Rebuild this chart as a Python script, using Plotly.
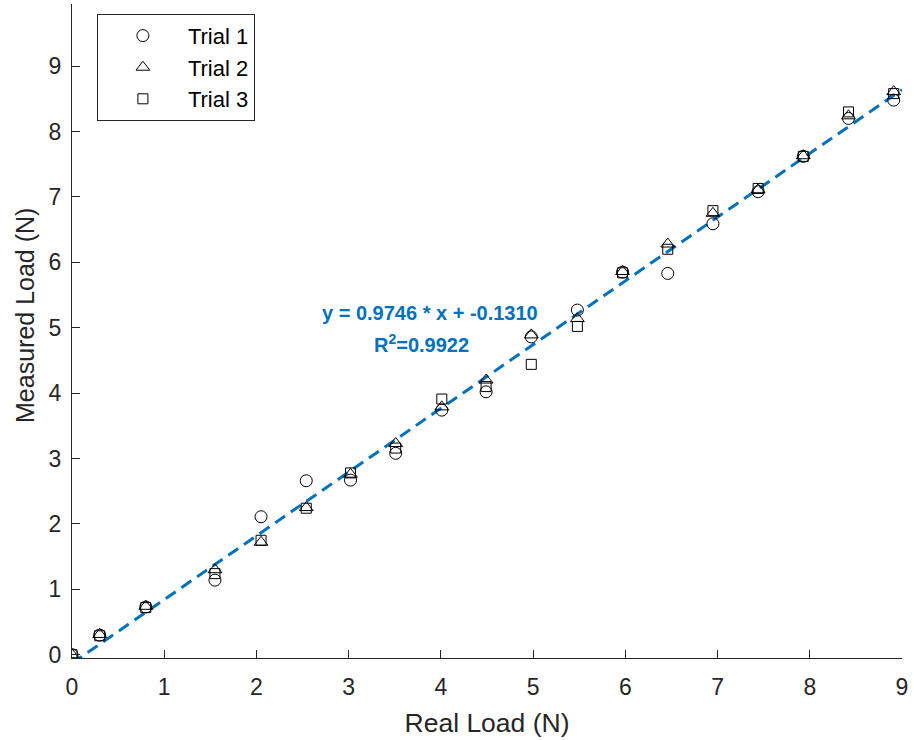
import plotly.graph_objects as go

# ---- data ----
real_load = [0.0, 0.30, 0.80, 1.55, 2.05, 2.54, 3.02, 3.51, 4.01, 4.49,
             4.98, 5.48, 5.97, 6.46, 6.95, 7.44, 7.93, 8.42, 8.91]
trial1 = [0.0, 0.30, 0.73, 1.14, 2.11, 2.66, 2.67, 3.08, 3.74, 4.02,
          4.86, 5.27, 5.85, 5.83, 6.59, 7.08, 7.62, 8.20, 8.48]
trial2 = [0.0, 0.31, 0.74, 1.30, 1.72, 2.25, 2.76, 3.23, 3.79, 4.20,
          4.89, 5.14, 5.86, 6.28, 6.75, 7.11, 7.63, 8.24, 8.61]
trial3 = [0.0, 0.29, 0.72, 1.24, 1.75, 2.24, 2.78, 3.16, 3.91, 4.10,
          4.44, 5.02, 5.84, 6.20, 6.79, 7.13, 7.62, 8.30, 8.58]
trial_names = ["Trial 1", "Trial 2", "Trial 3"]
fit_slope = 0.9746
fit_intercept = -0.1310
fit_r2 = 0.9922
fit_x = [0.0, 9.0]
tick_vals = list(range(0, 10))

FONT = "Liberation Sans, Arial, Helvetica, sans-serif"
AX = "#262626"
BLUE = "#0072BD"

fig = go.Figure()

fit_y = [fit_slope * v + fit_intercept for v in fit_x]
fig.add_trace(go.Scatter(x=fit_x, y=fit_y, mode="lines", showlegend=False,
                         line=dict(color=BLUE, width=3, dash="12px,7px"),
                         hoverinfo="skip"))

symbols = ["circle-open", "triangle-up-open", "square-open"]
sizes = [12, 12, 10]
for name, ys, sym, sz in zip(trial_names, [trial1, trial2, trial3], symbols, sizes):
    fig.add_trace(go.Scatter(x=real_load, y=ys, mode="markers", name=name,
                             legendgroup=name,
                             marker=dict(symbol=sym, size=sz, color="black",
                                         line=dict(color="black", width=1))))

fig.add_annotation(x=3.88, y=5.22, xref="x", yref="y",
                   text="<b>y = %.4f * x + %.4f</b>" % (fit_slope, fit_intercept),
                   showarrow=False, xanchor="center", yanchor="middle",
                   font=dict(family=FONT, size=20, color=BLUE))
fig.add_annotation(x=3.79, y=4.76, xref="x", yref="y",
                   text="<b>R<sup>2</sup>=%.4f</b>" % fit_r2,
                   showarrow=False, xanchor="center", yanchor="middle",
                   font=dict(family=FONT, size=20, color=BLUE))

# y-axis title placed as a rotated annotation (matches reference position)
fig.add_annotation(x=-0.0566, y=0.523, xref="paper", yref="paper",
                   text="Measured Load (N)", textangle=-90, showarrow=False,
                   xanchor="center", yanchor="middle",
                   font=dict(family=FONT, size=25, color=AX))

axis_common = dict(showline=True, linecolor=AX, linewidth=1, ticks="inside",
                   ticklen=8, tickcolor=AX, tickwidth=1, showgrid=False,
                   zeroline=False, mirror=False,
                   tickfont=dict(family=FONT, size=23, color=AX),
                   tickvals=tick_vals)

fig.update_layout(
    width=914, height=740,
    margin=dict(l=72, r=12, t=4, b=82),
    paper_bgcolor="white", plot_bgcolor="white",
    font=dict(family=FONT, color=AX),
    xaxis=dict(range=[0, 9], title=dict(text="Real Load (N)", standoff=14,
               font=dict(family=FONT, size=26.5, color=AX)),
               ticklabelstandoff=8, **axis_common),
    yaxis=dict(range=[-0.05, 9.95], ticklabelstandoff=5, **axis_common),
    legend=dict(x=0.030, y=0.985, xanchor="left", yanchor="top",
                bgcolor="white", bordercolor=AX, borderwidth=1,
                font=dict(family=FONT, size=22, color="black"),
                itemwidth=80, tracegroupgap=0, traceorder="grouped"),
    showlegend=True,
)

fig.write_html("out.html")
